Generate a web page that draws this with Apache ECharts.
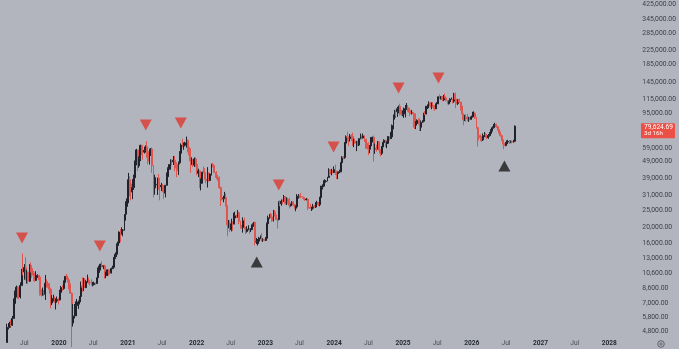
<!DOCTYPE html>
<html>
<head>
<meta charset="utf-8">
<script src="https://cdn.jsdelivr.net/npm/echarts@6/dist/echarts.min.js"></script>
<style>
html, body { margin: 0; padding: 0; background: #b2b5be; }
#chart { width: 679px; height: 349px; }
</style>
</head>
<body>
<div id="chart"></div>
<script>
// weekly candles, first one is the week of 2019-04-01, open of each week = previous close
const firstWeek = '2019-04-01';
const firstOpen = 4100;

const closes = [
  // 2019
  5050,5050,5300,5200,5700,7000,8200,8750,8000,7650,8950,10850,10800,11450,10200,10750,9500,11800,11300,10300,
  10150,9600,10300,10300,10050,8050,7850,8300,7950,9250,9200,8800,8500,7050,7400,7500,7100,7250,7400,7350,
  // 2020
  8150,8700,8600,9350,10150,9900,9650,8550,8050,5350,5850,5900,6800,6900,7150,7700,8900,8750,9700,8700,9450,
  9650,9350,9300,9000,9080,9250,9200,9950,11050,11700,11850,11650,11700,10250,10650,11100,10750,10650,
  11300,11500,13100,13750,15500,16050,18650,18200,19100,19150,23800,26500,29400,
  // 2021
  38200,36050,32300,34300,39250,48600,57500,46200,50950,61200,57350,55850,57050,60000,56200,49000,57800,
  58250,46400,34700,35700,35800,39100,35500,34700,35300,34250,31800,35400,39850,44600,47050,49250,48900,49900,
  48200,47250,43200,48200,54950,61500,61300,61300,63250,65500,59700,57200,49400,50100,46700,50800,47300,
  // 2022
  41800,43100,36300,38150,42400,42200,38400,37700,38800,37800,41300,46800,46400,42150,40400,39500,37650,
  34300,30100,29450,29450,29900,26600,20550,21000,19300,20850,20800,22600,23300,23150,24300,21550,20050,19850,
  21800,19400,18800,19300,19400,19200,19550,20600,21300,16300,16300,16450,17100,17100,16750,16850,16600,
  // 2023
  17100,20900,22700,23750,22950,21800,24600,23550,22350,22150,28000,27500,28450,28350,30300,27600,29250,
  28850,26900,27100,28100,27100,25850,26350,30500,30600,30300,30250,29900,29300,29050,29300,26100,26000,25850,
  25850,26550,26250,27950,27950,27150,29950,34500,35000,37050,37350,37450,39450,43800,41350,43000,42150,
  // 2024
  43900,41750,41600,42050,42600,48300,52150,51750,63100,68950,68400,67200,69650,69350,63900,64950,63100,64000,
  61500,67100,68500,67750,69650,66600,63200,62700,58000,60800,68200,68250,58150,58700,58400,64250,57300,
  54850,60000,63600,65600,62850,62900,69000,67950,68750,80400,89900,97900,97250,101200,104500,95200,93750,94500,
  // 2025
  94500,101300,102600,97700,96500,96150,96250,94300,80700,82600,86100,82400,78400,83700,85200,94650,94300,
  104650,106450,108950,104650,105750,105500,100950,108350,109200,119100,117300,119450,114200,119300,117500,113500,108250,
  111150,115300,115300,112200,123500,115100,108700,114500,110600,104700,94400,86800,90400,89000,88000,88500,87500,90500,
  // 2026
  94000,95000,89000,78000,70000,68000,67000,66000,70000,71000,70000,68000,70000,72000,75000,78000,80000,
  81500,79000,76000,73000,70000,66000,63000,61000,62500,64000,64500,64000,64500,64000,64800,79624.69
];

const highs = [
  // 2019
  5300,5350,5450,5600,5900,7500,8350,8950,8900,8300,9350,11250,13880,12000,13200,11100,10650,12000,12300,11450,
  10950,10650,10900,10450,10300,10100,8500,8700,8400,10350,9750,9500,9250,8700,7850,7900,7700,7500,7700,7550,
  // 2020
  8450,8900,9000,9600,10200,10500,10250,9950,9200,8150,6950,6950,7200,7450,7300,7750,9450,10000,9950,9900,9650,
  10400,10000,9600,9750,9400,9450,9350,9950,11450,12050,12100,12500,11800,11900,10800,11150,11000,10950,
  11450,11750,13250,14100,15950,16350,18800,19450,19900,19400,23800,28400,29500,
  // 2021
  41950,40100,37850,38500,40950,49700,58350,57500,52600,61800,61700,58600,60100,61200,64850,57500,58450,
  59000,59500,45800,40900,39500,39300,41300,36000,36600,35950,34700,35400,42200,45300,47150,50500,50500,52900,
  52950,48850,48400,49100,56550,62900,67000,63700,64250,69000,66300,59300,58800,51950,49450,51850,52000,
  // 2022
  47550,44450,43500,38900,42600,45850,44750,40150,45400,42400,41700,47550,48200,47150,42400,42950,40800,
  39950,34850,31450,30650,32350,31700,26900,22000,21850,22400,21600,24300,24650,23600,25200,24450,21800,20550,
  22800,22700,19950,20200,20450,19650,19700,21000,21400,21450,17200,16950,17450,17800,18400,17100,16950,
  // 2023
  17400,21250,23350,23900,24250,23450,25250,25200,23900,22600,28450,28850,29150,29150,31000,30500,30000,
  29800,29850,27600,28450,28400,27400,26800,31350,31400,31050,31800,30400,30300,29800,29700,29450,26800,27500,
  26400,27450,27000,28050,28600,27550,30250,35200,35900,37950,38400,38000,39750,44700,44000,44350,43800,
  // 2024
  45900,47000,43200,42850,43850,48550,52800,52950,64000,70150,73800,68900,71550,71300,72800,67000,67200,65000,
  65450,67450,71950,70000,71950,70200,66450,64550,63800,61450,68350,68950,70050,62700,61800,64950,65000,
  58100,60650,64100,66500,66000,64500,69400,69450,73600,81500,93450,99600,98700,103900,105500,108300,99900,98900,
  // 2025
  102700,106400,109350,106450,102500,98800,99500,95200,95000,85300,87450,88750,88500,86100,86450,95750,97900,
  104950,107100,111900,110700,110400,110600,106100,108500,110550,119500,123200,120250,120000,122300,124450,117600,113450,
  113350,116800,117900,113900,125750,126200,115950,114000,116400,111250,107500,93150,93000,94200,94500,90500,90400,92000,
  // 2026
  97000,97500,96000,90000,79000,72000,71000,69500,72000,73500,72500,71500,71500,73500,76500,79500,82000,
  83500,82500,80000,77000,74000,71000,67000,63500,64000,65500,66000,65800,65500,65500,66000,80500
];

const lows = [
  // 2019
  4100,4900,5000,5100,5150,5700,6900,7600,7450,7450,7500,8950,10300,9700,9600,9200,9150,9400,10700,9950,
  9500,9400,9600,9950,9650,7800,7700,7800,7900,7350,8700,8700,8000,6550,6850,7200,7100,6450,7150,6900,
  // 2020
  7300,8000,8300,8450,9200,9700,9350,8500,8000,3850,5100,5700,5900,6550,6500,6900,7650,8200,8300,8650,8650,
  9300,9150,8950,8950,8850,9050,9000,9150,9850,10650,11000,11450,11200,9850,9900,10200,10250,10400,
  10550,11200,11400,12900,13250,14800,15550,16200,18000,17600,19000,21800,25900,
  // 2021
  27700,30400,28800,29250,33200,37400,46600,43000,45000,49300,53700,50300,54700,55450,51700,47100,47050,
  52900,42000,30000,31100,34000,31000,33300,28800,32700,32150,29300,30000,37300,39150,43750,43900,46400,46800,
  43000,44750,39600,40750,47150,53850,59700,57600,60300,59300,55600,53300,42000,46750,45500,45550,45700,
  // 2022
  40600,39650,34050,33000,36250,41750,39600,36400,34350,37150,37650,40500,45200,42150,39250,38550,37600,
  33700,26700,28700,28050,29300,26550,17600,19650,18650,18800,18950,20800,20750,22650,22700,20800,19550,19550,
  18500,19300,18150,18500,19100,18200,18650,19200,20050,15500,15800,15500,15850,16900,16350,16300,16450,
  // 2023
  16500,17100,20400,22350,22550,21450,21500,23050,22000,19550,21850,26550,26750,27300,28200,27100,27000,
  27350,25800,26400,26600,26550,25450,24800,26200,29500,29700,29600,29500,29000,28600,28800,25200,25800,25700,
  24900,25350,26100,25950,27200,26550,26550,29600,33400,34500,35600,36700,37500,39900,40250,40550,41550,
  // 2024
  42500,40750,38550,38500,41900,42300,47700,50600,50900,59000,64550,60800,64500,65100,60800,59700,62800,56550,
  60200,60650,66600,66250,67250,64050,58400,58450,53500,55000,64250,63800,49000,54500,56100,57750,57200,
  52550,53600,59200,62500,59900,58900,62450,65250,66750,66850,76300,87100,90800,90500,95050,92200,91700,91400,
  // 2025
  89250,89800,99500,97800,91200,94100,93400,78200,76600,76500,81600,81300,74500,74500,83100,83900,92800,
  93500,100700,102000,103100,100400,102650,98200,100950,105100,107450,115700,114700,111900,112700,116800,111700,107300,
  107250,110800,114400,108650,109700,102000,107500,106300,109300,98900,94000,80600,85400,84500,85300,84500,86000,87000,
  // 2026
  89500,92500,88000,77000,60200,65500,65000,64000,65000,68500,68000,66500,67000,69000,71000,74000,77000,
  79000,78000,75000,72000,69000,65000,62000,58000,60500,61500,63000,62500,63000,63000,63500,64000
];

// signal markers
const topDates = ['2019-06-19','2020-08-05','2021-04-06','2021-10-09','2023-03-13','2023-12-29','2024-12-08','2025-07-08'];
const topPrices = [17200, 15400, 80900, 83200, 35500, 59800, 134400, 154100];
const bottomDates = ['2022-11-16','2026-06-23'];
const bottomPrices = [12360, 46080];

// price scale labels (69,000 sits under the last-price tag)
const priceTicks = [4800,5800,7000,8600,10600,13000,16000,20000,25000,31000,39000,49000,59000,
  95000,115000,145000,185000,225000,285000,345000,425000];
const timeTicks = ['2019-07-01','2020-01-01','2020-07-01','2021-01-01','2021-07-01','2022-01-01','2022-07-01',
  '2023-01-01','2023-07-01','2024-01-01','2024-07-01','2025-01-01','2025-07-01','2026-01-01','2026-07-01',
  '2027-01-01','2027-07-01','2028-01-01'];

const countdown = '3d 16h';

const upColor = '#1f222b';
const downColor = '#e0564e';

const DAY = 86400000;
const t0 = Date.parse(firstWeek);
const candles = closes.map((c, i) => [
  t0 + i * 7 * DAY,
  i === 0 ? firstOpen : closes[i - 1],
  c,
  lows[i],
  highs[i]
]);

// visible time window: 2020-01-01 sits at x=59, 2028-01-01 at x=610
const ms2020 = Date.UTC(2020, 0, 1), ms2028 = Date.UTC(2028, 0, 1);
const msPerPx = (ms2028 - ms2020) / 551;
const xMin = ms2020 - 59 * msPerPx;
const xMax = xMin + 638 * msPerPx;

const chart = echarts.init(document.getElementById('chart'));
chart.setOption({
  animation: false,
  backgroundColor: '#b2b5be',
  grid: { left: 0, right: 41, top: 0, bottom: 12 },
  xAxis: {
    type: 'value',
    min: xMin,
    max: xMax,
    axisLine: { show: false },
    axisTick: { show: false },
    splitLine: { show: false },
    axisLabel: {
      customValues: timeTicks.map(d => Date.parse(d)),
      margin: 3,
      hideOverlap: false,
      formatter: v => {
        const d = new Date(v);
        return d.getUTCMonth() === 0 ? '{y|' + d.getUTCFullYear() + '}' : '{m|Jul}';
      },
      rich: {
        y: { fontFamily: 'Roboto', fontSize: 6.6, fontWeight: 'bold', color: '#262a33' },
        m: { fontFamily: 'Roboto', fontSize: 6.6, color: '#4a4d57' }
      }
    }
  },
  yAxis: {
    type: 'log',
    position: 'right',
    min: 4420,
    max: 449300,
    axisLine: { show: false },
    axisTick: { show: false },
    splitLine: { show: false },
    axisLabel: {
      customValues: priceTicks,
      margin: 5,
      fontFamily: 'Roboto',
      fontSize: 6.8,
      color: '#3c3f49',
      formatter: v => v.toLocaleString('en-US', { minimumFractionDigits: 2, maximumFractionDigits: 2 })
    }
  },
  series: [
    {
      type: 'candlestick',
      barWidth: 1.4,
      data: candles,
      itemStyle: {
        color: upColor,
        color0: downColor,
        borderColor: upColor,
        borderColor0: downColor,
        borderWidth: 1
      }
    },
    {
      type: 'scatter',
      symbol: 'triangle',
      symbolRotate: 180,
      symbolSize: [12, 11],
      itemStyle: { color: '#dd3a2f' },
      data: topDates.map((d, i) => [Date.parse(d), topPrices[i]]),
      z: 5
    },
    {
      type: 'scatter',
      symbol: 'triangle',
      symbolSize: [12, 11],
      itemStyle: { color: '#1b1b1d' },
      data: bottomDates.map((d, i) => [Date.parse(d), bottomPrices[i]]),
      z: 5
    }
  ]
});

// last price tag on the price scale
const last = closes[closes.length - 1];
const py = chart.convertToPixel({ yAxisIndex: 0 }, last);
chart.setOption({
  graphic: [
    {
      type: 'rect',
      shape: { x: 641, y: py - 3, width: 34, height: 15, r: 1 },
      style: { fill: '#ec4f45' }
    },
    {
      type: 'text',
      x: 644, y: py - 2,
      style: {
        text: last.toLocaleString('en-US', { minimumFractionDigits: 2 }),
        fill: '#ffffff', fontFamily: 'Roboto', fontSize: 6.6
      }
    },
    {
      type: 'text',
      x: 644, y: py + 4.5,
      style: { text: countdown, fill: '#ffffff', fontFamily: 'Roboto', fontSize: 6.2 }
    },
    {
      type: 'circle',
      shape: { cx: 661, cy: 344, r: 3.3 },
      style: { fill: 'none', stroke: '#4a4d57', lineWidth: 0.8 }
    },
    {
      type: 'circle',
      shape: { cx: 661, cy: 344, r: 1.2 },
      style: { fill: 'none', stroke: '#4a4d57', lineWidth: 0.7 }
    }
  ]
});
</script>
</body>
</html>
